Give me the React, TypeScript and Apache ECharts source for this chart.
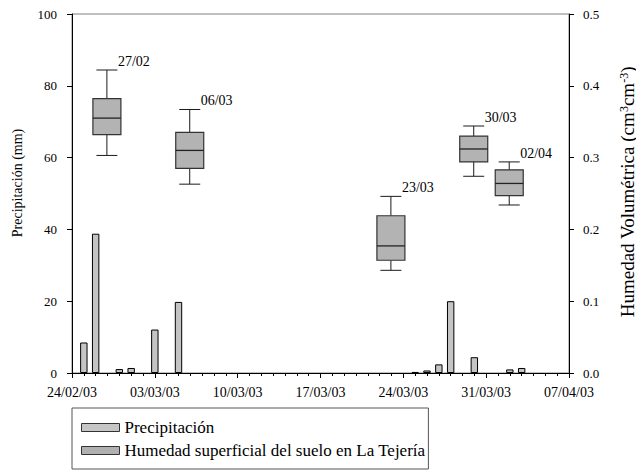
import React, { useEffect, useRef } from "react";
import * as echarts from "echarts";

const START_DATE = "24/02/03";
const END_DATE = "07/04/03";
const X_TICK_DAYS = 7;

const precipDates = [
  "25/02/03", "26/02/03", "28/02/03", "01/03/03", "03/03/03", "05/03/03",
  "25/03/03", "26/03/03", "27/03/03", "28/03/03", "30/03/03", "02/04/03", "03/04/03",
];
const precipValues = [8.5, 38.8, 1.1, 1.4, 12.1, 19.8, 0.3, 0.7, 2.4, 20.0, 4.4, 1.0, 1.4];

const boxDates = ["27/02/03", "06/03/03", "23/03/03", "30/03/03", "02/04/03"];
const boxLabels = ["27/02", "06/03", "23/03", "30/03", "02/04"];
const boxMin = [0.303, 0.263, 0.143, 0.274, 0.234];
const boxQ1 = [0.332, 0.285, 0.157, 0.294, 0.247];
const boxMedian = [0.355, 0.31, 0.177, 0.312, 0.264];
const boxQ3 = [0.382, 0.335, 0.219, 0.33, 0.283];
const boxMax = [0.422, 0.367, 0.246, 0.344, 0.294];

const LEFT_MIN = 0, LEFT_MAX = 100, LEFT_STEP = 20;
const RIGHT_MIN = 0, RIGHT_MAX = 0.5, RIGHT_STEP = 0.1;

const SERIES_PRECIP = "Precipitación";
const SERIES_HUM = "Humedad superficial del suelo en La Tejería";

const FONT = "Liberation Serif, Times New Roman, serif";
const DAY = 86400000;

function parseDate(s: string): number {
  const [d, m, y] = s.split("/").map(Number);
  return Date.UTC(2000 + y, m - 1, d);
}
const T0 = parseDate(START_DATE);
const toDay = (s: string) => Math.round((parseDate(s) - T0) / DAY);
const pad = (n: number) => (n < 10 ? "0" + n : "" + n);
function fmtDay(v: number): string {
  const dt = new Date(T0 + v * DAY);
  return `${pad(dt.getUTCDate())}/${pad(dt.getUTCMonth() + 1)}/${pad(dt.getUTCFullYear() % 100)}`;
}

export default function App() {
  const ref = useRef<HTMLDivElement>(null);
  useEffect(() => {
    document.body.style.margin = "0";
    if (!ref.current) return;
    const chart = echarts.init(ref.current, undefined, { renderer: "svg" });
    const barData = precipDates.map((d, i) => [toDay(d), precipValues[i]]);
    const boxData = boxDates.map((d, i) => [toDay(d), boxMin[i], boxQ1[i], boxMedian[i], boxQ3[i], boxMax[i]]);

    const option: any = {
      animation: false,
      backgroundColor: "#fff",
      textStyle: { fontFamily: FONT },
      grid: {
        left: 72, right: 67, top: 14, bottom: 98,
        show: true, borderColor: "#808080", borderWidth: 1, backgroundColor: "transparent",
      },
      legend: {
        left: 72, top: 408,
        orient: "vertical",
        itemWidth: 38, itemHeight: 8, itemGap: 6,
        padding: [11, 3, 10, 9],
        borderColor: "#555", borderWidth: 1, backgroundColor: "#fff",
        textStyle: { fontFamily: FONT, fontSize: 17, color: "#000" },
        data: [
          { name: SERIES_PRECIP, icon: "rect", itemStyle: { color: "#c6c6c6", borderColor: "#333", borderWidth: 1 } },
          { name: SERIES_HUM, icon: "rect", itemStyle: { color: "#b0b0b0", borderColor: "#333", borderWidth: 1 } },
        ],
      },
      xAxis: {
        type: "value",
        min: 0, max: toDay(END_DATE), interval: X_TICK_DAYS,
        axisLine: { lineStyle: { color: "#000", width: 1 } },
        axisTick: { show: true, length: 5, lineStyle: { color: "#000" } },
        minorTick: { show: true, splitNumber: X_TICK_DAYS, length: 3, lineStyle: { color: "#000" } },
        splitLine: { show: false },
        axisLabel: { formatter: (v: number) => fmtDay(v), fontFamily: FONT, fontSize: 14, color: "#000", margin: 12 },
      },
      yAxis: [
        {
          type: "value", min: LEFT_MIN, max: LEFT_MAX, interval: LEFT_STEP, position: "left",
          axisLine: { show: true, lineStyle: { color: "#000" } },
          axisTick: { show: true, length: 5, lineStyle: { color: "#000" } },
          splitLine: { show: false },
          axisLabel: { fontFamily: FONT, fontSize: 13, color: "#000", margin: 15 },
        },
        {
          type: "value", min: RIGHT_MIN, max: RIGHT_MAX, interval: RIGHT_STEP, position: "right",
          axisLine: { show: true, lineStyle: { color: "#000" } },
          axisTick: { show: true, length: 5, lineStyle: { color: "#000" } },
          splitLine: { show: false },
          axisLabel: { fontFamily: FONT, fontSize: 13, color: "#000", margin: 14, formatter: (v: number) => v.toFixed(1) },
        },
      ],
      graphic: [
        {
          type: "text", x: 17, y: 183, rotation: Math.PI / 2,
          style: { text: "Precipitación (mm)", fontFamily: FONT, fontSize: 14, fill: "#000", align: "center", verticalAlign: "middle" },
        },
        {
          type: "text", x: 627, y: 192, rotation: Math.PI / 2,
          style: {
            text: "{a|Humedad Volumétrica (cm}{b|3}{a|cm}{b|-3}{a|)}",
            align: "center", verticalAlign: "middle", fill: "#000",
            rich: {
              a: { fontFamily: FONT, fontSize: 19, fill: "#000", verticalAlign: "bottom" },
              b: { fontFamily: FONT, fontSize: 12, fill: "#000", verticalAlign: "top" },
            },
          },
        },
      ],
      series: [
        {
          name: SERIES_PRECIP,
          type: "bar",
          xAxisIndex: 0, yAxisIndex: 0,
          barWidth: 7.4,
          itemStyle: { color: "#c4c4c4", borderColor: "#000", borderWidth: 1 },
          data: barData,
        },
        {
          name: SERIES_HUM,
          type: "custom",
          xAxisIndex: 0, yAxisIndex: 1,
          encode: { x: 0, y: [1, 2, 3, 4, 5] },
          itemStyle: { color: "#b3b3b3" },
          data: boxData,
          renderItem: (params: any, api: any) => {
            const x = api.value(0);
            const pMin = api.coord([x, api.value(1)]);
            const pQ1 = api.coord([x, api.value(2)]);
            const pMed = api.coord([x, api.value(3)]);
            const pQ3 = api.coord([x, api.value(4)]);
            const pMax = api.coord([x, api.value(5)]);
            const cx = pMed[0] - 0.6;
            const hw = 14;
            const cw = 10.5;
            const ls = { stroke: "#1a1a1a", lineWidth: 1 };
            return {
              type: "group",
              children: [
                { type: "line", shape: { x1: cx, y1: pMax[1], x2: cx, y2: pQ3[1] }, style: ls },
                { type: "line", shape: { x1: cx, y1: pQ1[1], x2: cx, y2: pMin[1] }, style: ls },
                { type: "line", shape: { x1: cx - cw, y1: pMax[1], x2: cx + cw, y2: pMax[1] }, style: ls },
                { type: "line", shape: { x1: cx - cw, y1: pMin[1], x2: cx + cw, y2: pMin[1] }, style: ls },
                {
                  type: "rect",
                  shape: { x: cx - hw, y: pQ3[1], width: hw * 2, height: pQ1[1] - pQ3[1] },
                  style: { fill: "#b3b3b3", stroke: "#333", lineWidth: 1.2 },
                },
                { type: "line", shape: { x1: cx - hw, y1: pMed[1], x2: cx + hw, y2: pMed[1] }, style: { stroke: "#222", lineWidth: 1.3 } },
                {
                  type: "text", x: cx + cw + 0.5, y: pMax[1] - 8.5,
                  style: {
                    text: boxLabels[params.dataIndex], fill: "#000",
                    fontFamily: FONT, fontSize: 14, align: "left", verticalAlign: "middle",
                  },
                },
              ],
            };
          },
        },
      ],
    };
    chart.setOption(option);
    return () => chart.dispose();
  }, []);
  return <div ref={ref} style={{ width: 636, height: 471 }} />;
}
